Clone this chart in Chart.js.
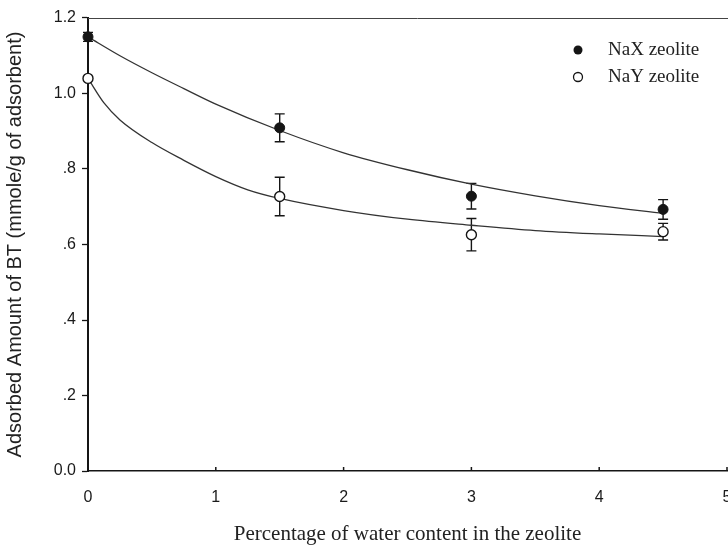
<!DOCTYPE html>
<html>
<head>
<meta charset="utf-8">
<title>Adsorbed amount of BT vs water content</title>
<script src="https://cdn.jsdelivr.net/npm/chart.js@4.4.1/dist/chart.umd.min.js"></script>
<style>
  html, body { margin: 0; padding: 0; background: #fff; }
  #wrap { width: 728px; height: 549px; overflow: hidden; }
  #myChart { display: block; }
</style>
</head>
<body>
<div id="wrap"><canvas id="myChart" width="760" height="549"></canvas></div>
<script>
// measured points (x = % water, y = mmole/g)
const waterContent = [0, 1.5, 3, 4.5];
const naxValues = [1.15, 0.909, 0.728, 0.693];
const naxErrors = [0.012, 0.037, 0.034, 0.026];
const nayValues = [1.04, 0.727, 0.626, 0.634];
const nayErrors = [0, 0.051, 0.043, 0.022];

// fitted curves
const naxFitX = [0, 0.25, 0.5, 0.75, 1, 1.5, 2, 2.5, 3, 3.5, 4, 4.5];
const naxFitY = [1.15, 1.10, 1.055, 1.013, 0.972, 0.902, 0.843, 0.798, 0.760, 0.729, 0.703, 0.682];
const nayFitX = [0, 0.125, 0.25, 0.5, 0.75, 1, 1.25, 1.5, 2, 2.5, 3, 3.5, 4, 4.5];
const nayFitY = [1.04, 0.975, 0.93, 0.87, 0.823, 0.78, 0.745, 0.722, 0.69, 0.667, 0.651, 0.637, 0.628, 0.621];

const xTickLabels = ['0', '1', '2', '3', '4', '5'];
const yTickLabels = ['0.0', '.2', '.4', '.6', '.8', '1.0', '1.2'];
const seriesNames = ['NaX zeolite', 'NaY zeolite'];

const ink = '#151515';

function toPoints(xs, ys) {
  return xs.map((x, i) => ({ x: x, y: ys[i] }));
}

// vertical error bars with caps, under the markers
const errorBars = {
  id: 'errorBars',
  beforeDatasetsDraw(chart) {
    const ctx = chart.ctx;
    const xs = chart.scales.x;
    const ys = chart.scales.y;
    const sets = [[naxValues, naxErrors], [nayValues, nayErrors]];
    ctx.save();
    ctx.strokeStyle = ink;
    ctx.lineWidth = 1.4;
    sets.forEach(([vals, errs]) => {
      waterContent.forEach((w, i) => {
        if (!errs[i]) return;
        const px = xs.getPixelForValue(w);
        const top = ys.getPixelForValue(vals[i] + errs[i]);
        const bot = ys.getPixelForValue(vals[i] - errs[i]);
        ctx.beginPath();
        ctx.moveTo(px, top); ctx.lineTo(px, bot);
        ctx.moveTo(px - 5, top); ctx.lineTo(px + 5, top);
        ctx.moveTo(px - 5, bot); ctx.lineTo(px + 5, bot);
        ctx.stroke();
      });
    });
    ctx.restore();
  }
};

// top frame line, inward x ticks and the legend box
const frameAndLegend = {
  id: 'frameAndLegend',
  afterDraw(chart) {
    const ctx = chart.ctx;
    const area = chart.chartArea;
    const xs = chart.scales.x;
    ctx.save();
    ctx.strokeStyle = '#444';
    ctx.lineWidth = 1;
    ctx.beginPath();
    ctx.moveTo(area.left, area.top + 0.5);
    ctx.lineTo(area.right + 20, area.top + 0.5);
    ctx.stroke();

    ctx.strokeStyle = ink;
    ctx.lineWidth = 1.5;
    ctx.beginPath();
    xTickLabels.forEach((t, i) => {
      const px = xs.getPixelForValue(i);
      ctx.moveTo(px, area.bottom);
      ctx.lineTo(px, area.bottom - 4);
    });
    ctx.stroke();

    const lx = area.right - 149;
    const rows = [area.top + 32, area.top + 59];
    rows.forEach((y, i) => {
      ctx.beginPath();
      ctx.arc(lx, y, 4.5, 0, Math.PI * 2);
      if (i === 0) {
        ctx.fillStyle = ink;
        ctx.fill();
      } else {
        ctx.fillStyle = '#fff';
        ctx.fill();
        ctx.lineWidth = 1.3;
        ctx.strokeStyle = ink;
        ctx.stroke();
      }
      ctx.fillStyle = '#222';
      ctx.font = '19px "Liberation Serif", "Times New Roman", serif';
      ctx.textBaseline = 'middle';
      ctx.textAlign = 'left';
      ctx.fillText(seriesNames[i], lx + 30, y);
    });
    ctx.restore();
  }
};

document.addEventListener('DOMContentLoaded', function () {
  const ctx = document.getElementById('myChart').getContext('2d');
  new Chart(ctx, {
    type: 'scatter',
    data: {
      datasets: [{
        label: seriesNames[0],
        data: toPoints(waterContent, naxValues),
        pointRadius: 5,
        pointBackgroundColor: ink,
        pointBorderColor: ink,
        pointBorderWidth: 1,
        showLine: false,
        clip: false,
        order: 0
      }, {
        label: seriesNames[1],
        data: toPoints(waterContent, nayValues),
        pointRadius: 5,
        pointBackgroundColor: '#fff',
        pointBorderColor: ink,
        pointBorderWidth: 1.4,
        showLine: false,
        clip: false,
        order: 0
      }, {
        label: 'NaX fit',
        data: toPoints(naxFitX, naxFitY),
        showLine: true,
        pointRadius: 0,
        borderColor: '#333',
        borderWidth: 1.3,
        cubicInterpolationMode: 'monotone',
        order: 1
      }, {
        label: 'NaY fit',
        data: toPoints(nayFitX, nayFitY),
        showLine: true,
        pointRadius: 0,
        borderColor: '#333',
        borderWidth: 1.3,
        cubicInterpolationMode: 'monotone',
        order: 1
      }]
    },
    options: {
      responsive: false,
      animation: false,
      // canvas is wider than the page so the right edge (and the "5") gets cut off
      layout: { padding: { left: 0, top: 18, right: 33, bottom: 0 } },
      plugins: {
        legend: { display: false },
        tooltip: { enabled: false }
      },
      scales: {
        x: {
          type: 'linear',
          min: 0,
          max: 5,
          afterFit: function (scale) { scale.height = 78; },
          afterBuildTicks: function (scale) {
            scale.ticks = xTickLabels.map((t, i) => ({ value: i }));
          },
          ticks: {
            padding: 17,
            color: '#1a1a1a',
            font: { family: '"Liberation Sans", Arial, sans-serif', size: 16 },
            callback: (v, i) => xTickLabels[i]
          },
          grid: { drawOnChartArea: false, drawTicks: false },
          border: { color: ink, width: 1.5 },
          title: {
            display: true,
            text: 'Percentage of water content in the zeolite',
            color: '#222',
            font: { family: '"Liberation Serif", "Times New Roman", serif', size: 21, weight: 'normal' },
            padding: { top: 0, bottom: 2 }
          }
        },
        y: {
          type: 'linear',
          min: 0,
          max: 1.2,
          afterFit: function (scale) { scale.width = 88; },
          afterBuildTicks: function (scale) {
            scale.ticks = yTickLabels.map((t, i) => ({ value: i * 0.2 }));
          },
          ticks: {
            padding: 6,
            color: '#1a1a1a',
            font: { family: '"Liberation Sans", Arial, sans-serif', size: 16 },
            callback: (v, i) => yTickLabels[i]
          },
          grid: { drawOnChartArea: false, drawTicks: true, tickLength: 6, color: ink, tickWidth: 1.3 },
          border: { color: ink, width: 2 },
          title: {
            display: true,
            text: 'Adsorbed Amount of BT (mmole/g of adsorbent)',
            color: '#222',
            font: { family: '"Liberation Sans", Arial, sans-serif', size: 20, weight: 'normal' },
            padding: { top: 3, bottom: 0 }
          }
        }
      }
    },
    plugins: [errorBars, frameAndLegend]
  });
});
</script>
</body>
</html>
